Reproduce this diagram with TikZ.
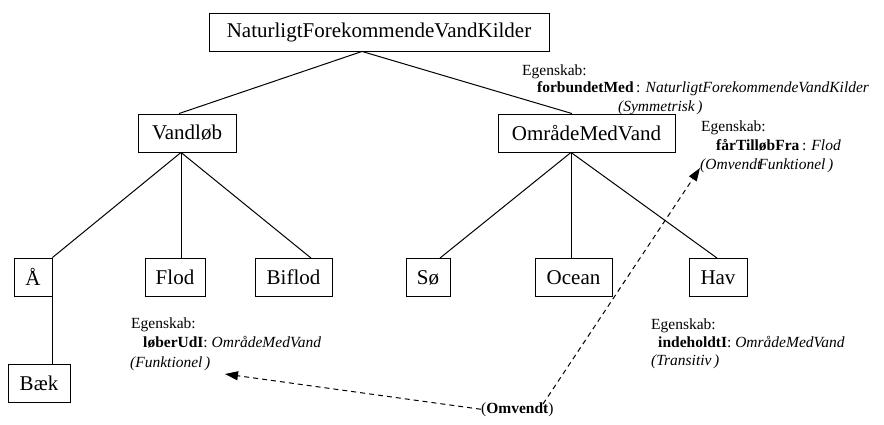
\documentclass[tikz,border=0pt]{standalone}
\usepackage{fontspec}
\setmainfont{Liberation Serif}
\usetikzlibrary{arrows.meta}
\tikzset{
  cls/.style={draw, line width=0.9pt, inner sep=0pt, minimum height=38pt,
    font=\fontsize{21}{25}\selectfont},
  lbl/.style={inner sep=0pt, anchor=base west, font=\fontsize{15.5}{18}\selectfont},
  edge/.style={line width=1pt},
  rel/.style={line width=1pt, dash pattern=on 5pt off 4pt,
    -{Triangle[length=13pt,width=9pt]}}
}
\begin{document}
\begin{tikzpicture}[x=1pt,y=-1pt]
\useasboundingbox (0,0) rectangle (884,425);
% class boxes
\node[cls, minimum width=340pt] (top) at (379,32) {NaturligtForekommendeVandKilder};
\node[cls, minimum width=98pt] (vandlob) at (187,133) {Vandløb};
\node[cls, minimum width=177pt] (omrade) at (586.5,133) {OmrådeMedVand};
\node[cls, minimum width=38pt] (aa) at (33,277) {Å};
\node[cls, minimum width=60pt] (flod) at (175,277.5) {Flod};
\node[cls, minimum width=77pt] (biflod) at (293.5,277.5) {Biflod};
\node[cls, minimum width=44pt] (so) at (428,277.5) {Sø};
\node[cls, minimum width=77pt] (ocean) at (573.5,277.5) {Ocean};
\node[cls, minimum width=58pt] (hav) at (718,277.5) {Hav};
\node[cls, minimum width=62pt] (baek) at (39,383) {Bæk};
% tree edges
\draw[edge] ([xshift=-17pt]top.south) -- ([xshift=-8pt]vandlob.north);
\draw[edge] ([xshift=-17pt]top.south) -- ([xshift=-14.5pt]omrade.north);
\draw[edge] ([xshift=-6pt]vandlob.south) -- (aa.north east);
\draw[edge] ([xshift=-6pt]vandlob.south) -- ([xshift=6pt]flod.north);
\draw[edge] ([xshift=-6pt]vandlob.south) -- ([xshift=17.5pt]biflod.north);
\draw[edge] ([xshift=-15.5pt]omrade.south) -- ([xshift=12pt]so.north);
\draw[edge] ([xshift=-15.5pt]omrade.south) -- ([xshift=-2.5pt]ocean.north);
\draw[edge] ([xshift=-15.5pt]omrade.south) -- ([xshift=-1pt]hav.north);
\draw[edge] (aa.south east) -- (baek.north -| aa.east);
% property labels
\node[lbl] (e1) at (522,76) {Egenskab:};
\node[lbl] (p1) at (537,93) {\textbf{forbundetMed}\,: \textit{NaturligtForekommendeVandKilder}};
\node[lbl] (c1) at (618,112) {\textit{(Symmetrisk\,)}};
\node[lbl] (e2) at (701,132) {Egenskab:};
\node[lbl] (p2) at (716,151) {\textbf{fårTilløbFra}\,: \textit{Flod}};
\node[lbl] (c2) at (700,170) {\textit{(Omvendt\kern-3pt Funktionel\,)}};
\node[lbl] (e3) at (131,328) {Egenskab:};
\node[lbl] (p3) at (143,347) {\textbf{løberUdI}: \textit{OmrådeMedVand}};
\node[lbl] (c3) at (130,367) {\textit{(Funktionel\,)}};
\node[lbl] (e4) at (651,329) {Egenskab:};
\node[lbl] (p4) at (658,347) {\textbf{indeholdtI}: \textit{OmrådeMedVand}};
\node[lbl] (c4) at (651,365) {\textit{(Transitiv\,)}};
% inverse relation
\node[lbl] (omv) at (481,413) {(\textbf{Omvendt})};
\coordinate (ltip) at (225,374);
\coordinate (rtip) at (700,168);
\coordinate (ustart) at (543,404);
\draw[rel] (omv.west) -- (ltip);
\draw[rel] (ustart) -- (rtip);
\end{tikzpicture}
\end{document}
